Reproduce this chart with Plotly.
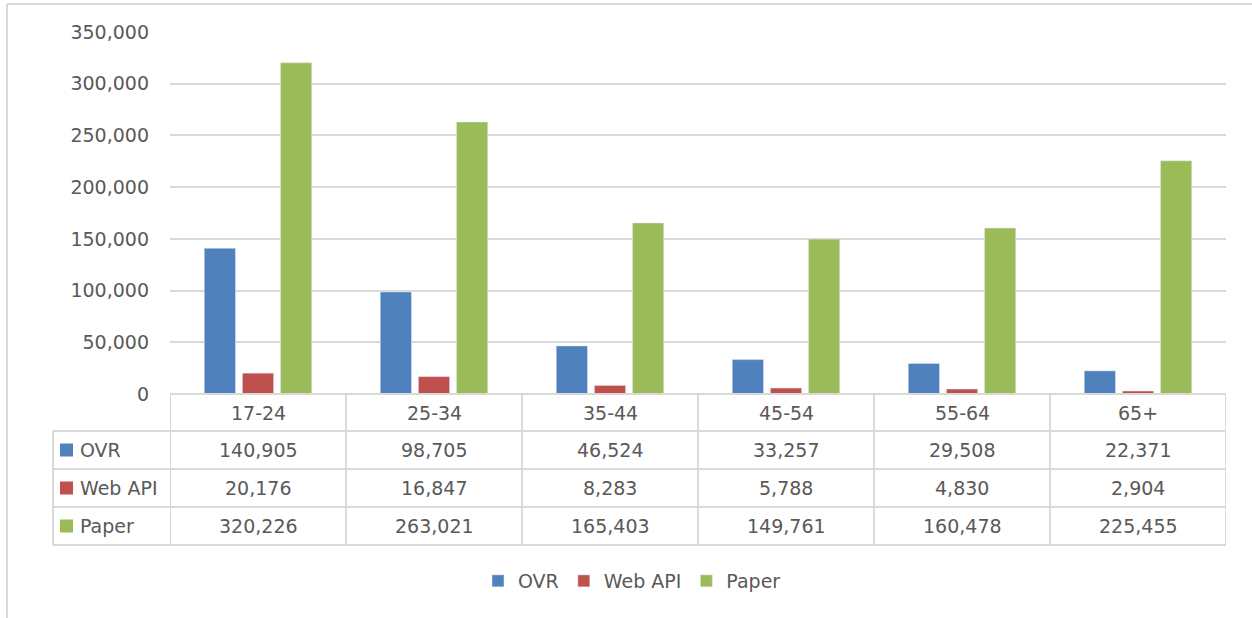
import plotly.graph_objects as go

# Data
age_groups = ["17-24", "25-34", "35-44", "45-54", "55-64", "65+"]
ovr = [140905, 98705, 46524, 33257, 29508, 22371]
web_api = [20176, 16847, 8283, 5788, 4830, 2904]
paper = [320226, 263021, 165403, 149761, 160478, 225455]

series = [
    ("OVR", ovr, "#4F81BD"),
    ("Web API", web_api, "#C0504D"),
    ("Paper", paper, "#9BBB59"),
]

W, H = 1252, 618
L, R, T, B = 170, 1226, 32, 394   # plot area in pixels
FONT = "DejaVu Sans"
TXT = "#595959"
GRID = "#D9D9D9"


def px_x(x):
    return (x - L) / (R - L)


def px_y(y):
    return (B - y) / (B - T)


def label(text, x, y, xref="x", xanchor="center"):
    return dict(x=x, xref=xref, y=y, yref="paper", text=text, showarrow=False,
                xanchor=xanchor, yanchor="middle",
                font=dict(family=FONT, size=19, color=TXT))


fig = go.Figure()
for name, vals, color in series:
    fig.add_trace(go.Bar(x=age_groups, y=vals, name=name, marker_color=color))

shapes = []
annotations = []

# data table below the plot
row_edges = [394, 431, 469, 507, 545]
n = len(age_groups)
grid_line = dict(color=GRID, width=2)

# horizontal lines
shapes.append(dict(type="line", xref="x", yref="paper", x0=-0.5, x1=n - 0.5,
                   y0=px_y(row_edges[0]), y1=px_y(row_edges[0]), line=grid_line))
for y in row_edges[1:]:
    shapes.append(dict(type="line", xref="paper", yref="paper", x0=px_x(53), x1=1,
                       y0=px_y(y), y1=px_y(y), line=grid_line))
# vertical lines
for i in range(n + 1):
    shapes.append(dict(type="line", xref="x", yref="paper", x0=i - 0.5, x1=i - 0.5,
                       y0=px_y(row_edges[0]), y1=px_y(row_edges[-1]), line=grid_line))
shapes.append(dict(type="line", xref="paper", yref="paper", x0=px_x(53), x1=px_x(53),
                   y0=px_y(row_edges[1]), y1=px_y(row_edges[-1]), line=grid_line))

# header row
for cat in age_groups:
    annotations.append(label(cat, cat, px_y((row_edges[0] + row_edges[1]) / 2)))

# series rows
for r, (name, vals, color) in enumerate(series):
    top, bot = row_edges[r + 1], row_edges[r + 2]
    mid = (top + bot) / 2
    shapes.append(dict(type="rect", xref="paper", yref="paper", x0=px_x(60), x1=px_x(73),
                       y0=px_y(mid - 6.5), y1=px_y(mid + 6.5),
                       fillcolor=color, line=dict(width=0)))
    annotations.append(label(name, px_x(78), px_y(mid), xref="paper", xanchor="left"))
    for cat, v in zip(age_groups, vals):
        annotations.append(label(f"{v:,}", cat, px_y(mid)))

# outer chart border (left and top)
shapes.append(dict(type="line", xref="paper", yref="paper", x0=px_x(7), x1=px_x(7),
                   y0=px_y(4), y1=px_y(618), line=grid_line))
shapes.append(dict(type="line", xref="paper", yref="paper", x0=px_x(7), x1=px_x(1252),
                   y0=px_y(4), y1=px_y(4), line=grid_line))

fig.update_layout(
    width=W, height=H,
    margin=dict(l=L, r=W - R, t=T, b=H - B),
    paper_bgcolor="white", plot_bgcolor="white",
    barmode="group", bargap=0.35, bargroupgap=0.18,
    font=dict(family=FONT, size=19, color=TXT),
    shapes=shapes, annotations=annotations,
    showlegend=True,
    legend=dict(orientation="h", xanchor="center", x=px_x(632), yanchor="middle",
                y=px_y(581), font=dict(family=FONT, size=19, color=TXT),
                itemwidth=30, traceorder="normal"),
    xaxis=dict(showticklabels=False, showline=False, showgrid=False, zeroline=False,
               range=[-0.5, n - 0.5]),
    yaxis=dict(range=[0, 350000], dtick=50000, tickformat=",", showgrid=True,
               gridcolor=GRID, gridwidth=2, zeroline=False, showline=False,
               ticks="", ticklabelstandoff=20,
               tickfont=dict(family=FONT, size=19, color=TXT)),
)

fig.write_html("out.html", config={"displayModeBar": False},
               post_script="document.body.style.margin='0';")
